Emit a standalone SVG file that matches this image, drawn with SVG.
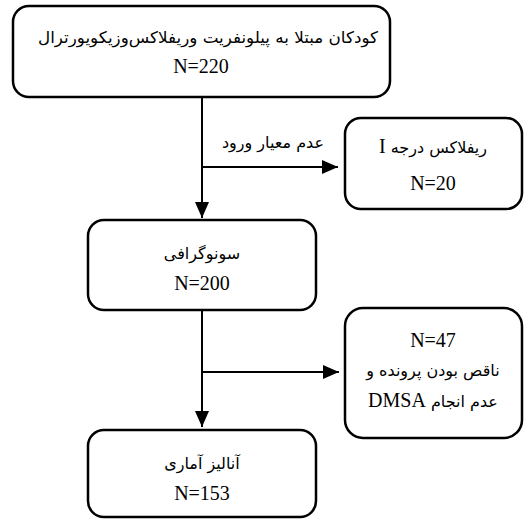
<svg xmlns="http://www.w3.org/2000/svg" width="524" height="519" viewBox="0 0 524 519">
<style>
.box{fill:#fff;stroke:#000;stroke-width:2.5}
.t{fill:#000;text-anchor:middle;direction:rtl}
.n{font-family:"Liberation Serif","Times New Roman",Tinos,"DejaVu Serif",serif;font-size:20px}
.fa{font-family:"DejaVu Sans","Liberation Serif",serif;font-size:16px}
.ln{stroke:#000;stroke-width:2;fill:none}
</style>
<defs>
<marker id="ah" viewBox="0 0 16 14" refX="16" refY="7" markerWidth="16" markerHeight="14" markerUnits="userSpaceOnUse" orient="auto">
<path d="M0,0 L16,7 L0,14 Z" fill="#000"/>
</marker>
</defs>
<rect width="524" height="519" fill="#fff"/>
<g id="connectors">
<line class="ln" x1="202" y1="97" x2="202" y2="218" marker-end="url(#ah)"/>
<line class="ln" x1="202" y1="167" x2="338" y2="167" marker-end="url(#ah)"/>
<line class="ln" x1="202" y1="310" x2="202" y2="427" marker-end="url(#ah)"/>
<line class="ln" x1="202" y1="372" x2="339" y2="372" marker-end="url(#ah)"/>
<text class="t fa" x="273" y="148">عدم معیار ورود</text>
</g>
<g id="node1">
<rect class="box" x="13" y="6" width="377" height="91" rx="16"/>
<text class="t fa" x="208" y="43" textLength="340" lengthAdjust="spacingAndGlyphs">کودکان مبتلا به پیلونفریت وریفلاکس‌وزیکویورترال</text>
<text class="t n" x="201" y="73">N=220</text>
</g>
<g id="node2">
<rect class="box" x="345" y="118" width="177" height="91" rx="16"/>
<text class="t fa" x="433" y="153">ریفلاکس درجه <tspan class="n">I</tspan></text>
<text class="t n" x="433" y="190">N=20</text>
</g>
<g id="node3">
<rect class="box" x="88" y="220" width="228" height="90" rx="16"/>
<text class="t fa" x="202" y="259">سونوگرافی</text>
<text class="t n" x="202" y="290">N=200</text>
</g>
<g id="node4">
<rect class="box" x="345" y="308" width="177" height="130" rx="18"/>
<text class="t n" x="433" y="347">N=47</text>
<text class="t fa" x="433" y="376">ناقص بودن پرونده و</text>
<text class="t fa" x="433" y="407">عدم انجام <tspan class="n">DMSA</tspan></text>
</g>
<g id="node5">
<rect class="box" x="88" y="430" width="228" height="87" rx="16"/>
<text class="t fa" x="202" y="469">آنالیز آماری</text>
<text class="t n" x="202" y="500">N=153</text>
</g>
</svg>
